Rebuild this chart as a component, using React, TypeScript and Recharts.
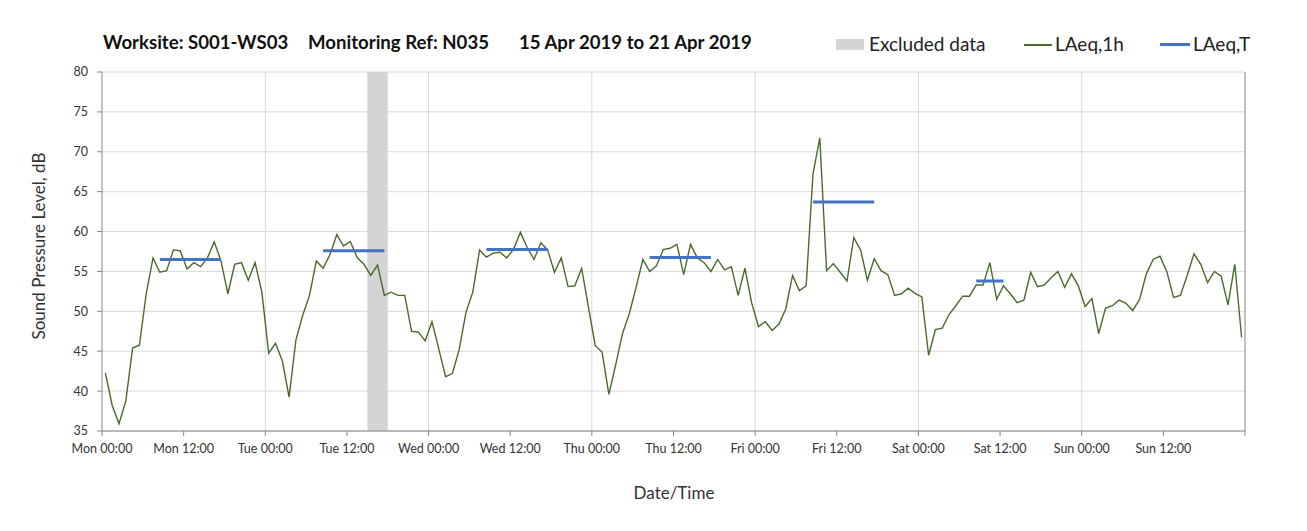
import {
  ComposedChart,
  Line,
  XAxis,
  YAxis,
  CartesianGrid,
  ReferenceArea,
  ReferenceLine,
} from 'recharts'

// hourly LAeq,1h, Mon 00:00 - Sun 23:00 (plotted at the middle of each hour)
const laeq1h = [
  42.25, 38.2, 35.9, 38.75, 45.4, 45.75, 52.2, 56.7, 54.9, 55.1, 57.7, 57.6,
  55.3, 56.1, 55.6, 56.7, 58.7, 56.3, 52.2, 55.9, 56.1, 53.9, 56.1, 52.4,
  44.75, 46.0, 43.8, 39.25, 46.4, 49.5, 52.0, 56.3, 55.4, 57.1, 59.6, 58.2,
  58.75, 56.75, 55.9, 54.5, 55.8, 52.0, 52.4, 52.0, 52.0, 47.5, 47.4, 46.3,
  48.7, 45.3, 41.8, 42.2, 45.2, 49.9, 52.4, 57.7, 56.8, 57.3, 57.4, 56.7,
  57.8, 59.9, 58.0, 56.5, 58.6, 57.7, 54.9, 56.7, 53.1, 53.2, 55.4, 50.5,
  45.7, 44.9, 39.6, 43.3, 47.2, 49.7, 53.0, 56.5, 55.0, 55.7, 57.75, 57.9,
  58.4, 54.6, 58.4, 56.7, 56.1, 55.0, 56.5, 55.2, 55.6, 52.0, 55.4, 51.0,
  48.1, 48.7, 47.6, 48.4, 50.3, 54.5, 52.6, 53.2, 67.2, 71.75, 55.1, 56.0,
  54.9, 53.8, 59.25, 57.7, 53.9, 56.6, 55.1, 54.6, 52.0, 52.2, 52.9, 52.25,
  51.8, 44.5, 47.7, 47.9, 49.6, 50.7, 51.9, 51.9, 53.3, 53.3, 56.1, 51.5,
  53.2, 52.2, 51.1, 51.4, 54.9, 53.1, 53.3, 54.2, 55.0, 53.0, 54.7, 53.2,
  50.6, 51.6, 47.2, 50.4, 50.7, 51.4, 51.0, 50.1, 51.5, 54.7, 56.5, 56.9,
  55.0, 51.75, 52.0, 54.5, 57.2, 55.9, 53.6, 55.0, 54.4, 50.8, 55.9, 46.75,
]

// LAeq,T daytime periods
const periodDay = [0, 1, 2, 3, 4, 5]
const periodFrom = [8, 8, 8, 8, 8, 8]
const periodTo = [18, 18, 18, 18, 18, 13]
const laeqT = [56.5, 57.6, 57.75, 56.75, 63.7, 53.8]

// excluded data, hours from Mon 00:00
const excludedFrom = [39]
const excludedTo = [42]

const xTicks = [0, 12, 24, 36, 48, 60, 72, 84, 96, 108, 120, 132, 144, 156, 168]
const xTickLabels = [
  'Mon 00:00', 'Mon 12:00', 'Tue 00:00', 'Tue 12:00', 'Wed 00:00', 'Wed 12:00',
  'Thu 00:00', 'Thu 12:00', 'Fri 00:00', 'Fri 12:00', 'Sat 00:00', 'Sat 12:00',
  'Sun 00:00', 'Sun 12:00', '',
]
const dayLines = [24, 48, 72, 96, 120, 144]
const yTicks = [35, 40, 45, 50, 55, 60, 65, 70, 75, 80]

const hourly = laeq1h.map((v, i) => ({ t: i + 0.5, v }))

const GREEN = '#4b692f'
const BLUE = '#4472c4'
const AXIS = '#868686'
const GRID = '#d9d9d9'

export default function App() {
  return (
    <div style={{ position: 'relative', width: 1291, height: 515, fontFamily: 'Lato', color: '#222' }}>
      {/* title */}
      <div style={{ position: 'absolute', top: 23, left: 0, fontWeight: 700, fontSize: 18.6, lineHeight: '22px', color: '#111' }}>
        <span style={{ position: 'absolute', left: 95, whiteSpace: 'nowrap' }}>Worksite: S001-WS03</span>
        <span style={{ position: 'absolute', left: 300, whiteSpace: 'nowrap' }}>Monitoring Ref: N035</span>
        <span style={{ position: 'absolute', left: 511, whiteSpace: 'nowrap' }}>15 Apr 2019 to 21 Apr 2019</span>
      </div>

      {/* legend */}
      <div style={{ position: 'absolute', top: 25, left: 0, fontSize: 19, lineHeight: '22px', color: '#222' }}>
        <span style={{ position: 'absolute', left: 828, top: 6, width: 28, height: 11, background: '#d4d4d4' }} />
        <span style={{ position: 'absolute', left: 861, whiteSpace: 'nowrap' }}>Excluded data</span>
        <span style={{ position: 'absolute', left: 1016, top: 11, width: 28, height: 1.5, background: GREEN }} />
        <span style={{ position: 'absolute', left: 1047, whiteSpace: 'nowrap' }}>LAeq,1h</span>
        <span style={{ position: 'absolute', left: 1152, top: 10, width: 30, height: 3, background: BLUE }} />
        <span style={{ position: 'absolute', left: 1185, whiteSpace: 'nowrap' }}>LAeq,T</span>
      </div>

      {/* axis titles */}
      <div style={{ position: 'absolute', left: 31 - 150, top: 238 - 11, width: 300, height: 22, lineHeight: '22px', textAlign: 'center', fontSize: 17, color: '#333', transform: 'rotate(-90deg)' }}>
        Sound Pressure Level, dB
      </div>
      <div style={{ position: 'absolute', left: 666 - 100, top: 485 - 11, width: 200, height: 22, lineHeight: '22px', textAlign: 'center', fontSize: 17, color: '#333' }}>
        Date/Time
      </div>

      <ComposedChart
        width={1291}
        height={515}
        data={hourly}
        margin={{ top: 64, right: 54, bottom: 62, left: 0 }}
      >
        <CartesianGrid stroke={GRID} strokeWidth={1} vertical={false} />
        {excludedFrom.map((from, i) => (
          <ReferenceArea key={i} x1={from} x2={excludedTo[i]} fill="#d4d4d4" fillOpacity={1} stroke="none" />
        ))}
        {dayLines.map((t) => (
          <ReferenceLine key={'d' + t} x={t} stroke={GRID} />
        ))}
        <XAxis
          type="number"
          dataKey="t"
          domain={[0, 168]}
          ticks={xTicks}
          interval={0}
          tickFormatter={(t: number) => xTickLabels[xTicks.indexOf(t)]}
          tick={{ fontSize: 12.5, fill: '#333' }}
          tickSize={5}
          tickMargin={8}
          height={30}
          stroke={AXIS}
          axisLine={{ stroke: AXIS }}
          tickLine={{ stroke: AXIS }}
        />
        <YAxis
          type="number"
          domain={[35, 80]}
          ticks={yTicks}
          interval={0}
          width={94}
          tick={{ fontSize: 12.5, fill: '#333' }}
          tickSize={5}
          tickMargin={9}
          stroke={AXIS}
          axisLine={{ stroke: AXIS }}
          tickLine={{ stroke: AXIS }}
          allowDataOverflow
        />
        <ReferenceLine x={168} stroke={AXIS} />
        <Line
          dataKey="v"
          stroke={GREEN}
          strokeWidth={1.4}
          dot={false}
          activeDot={false}
          isAnimationActive={false}
        />
        {periodDay.map((d, i) => (
          <Line
            key={'T' + i}
            data={[
              { t: d * 24 + periodFrom[i] + 0.5, v: laeqT[i] },
              { t: d * 24 + periodTo[i] - 0.5, v: laeqT[i] },
            ]}
            dataKey="v"
            stroke={BLUE}
            strokeWidth={3}
            dot={false}
            activeDot={false}
            isAnimationActive={false}
          />
        ))}
      </ComposedChart>
    </div>
  )
}
